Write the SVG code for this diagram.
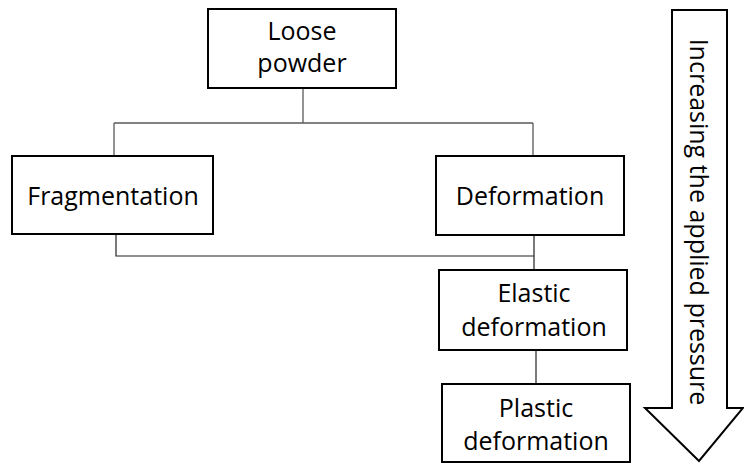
<svg xmlns="http://www.w3.org/2000/svg" width="744" height="464" viewBox="0 0 744 464">
<style>
.box{fill:#fff;stroke:#000;stroke-width:2}
.t{font-family:"Open Sans","Noto Sans",sans-serif;font-size:25px;fill:#000;text-anchor:middle}
.c{fill:none;stroke:#5a5a5a;stroke-width:1.3}
.d{fill:none;stroke:#222;stroke-width:1.2}
</style>
<rect width="744" height="464" fill="#fff"/>
<g id="connectors">
<path class="c" d="M303 88V123M114 123H533M114 123V156M533 123V156"/>
<path class="d" d="M116 234V256H534M534 235V270"/>
<path class="d" d="M536 350V384"/>
</g>
<g id="loose">
<rect class="box" x="208" y="9" width="188" height="79"/>
<text class="t" x="302" y="40">Loose</text>
<text class="t" x="302" y="72">powder</text>
</g>
<g id="fragmentation">
<rect class="box" x="12" y="156" width="201" height="78"/>
<text class="t" x="113" y="205">Fragmentation</text>
</g>
<g id="deformation">
<rect class="box" x="436" y="156" width="188" height="79"/>
<text class="t" x="530" y="205">Deformation</text>
</g>
<g id="elastic">
<rect class="box" x="439" y="270" width="188" height="80"/>
<text class="t" x="534" y="302">Elastic</text>
<text class="t" x="534" y="336">deformation</text>
</g>
<g id="plastic">
<rect class="box" x="442" y="384" width="188" height="78"/>
<text class="t" x="536" y="417">Plastic</text>
<text class="t" x="536" y="450">deformation</text>
</g>
<g id="arrow">
<polygon class="box" points="672,10 727,10 727,408 743,408 699,461 645,408 672,408"/>
<text class="t" transform="translate(690,222) rotate(90)">Increasing the applied pressure</text>
</g>
</svg>
